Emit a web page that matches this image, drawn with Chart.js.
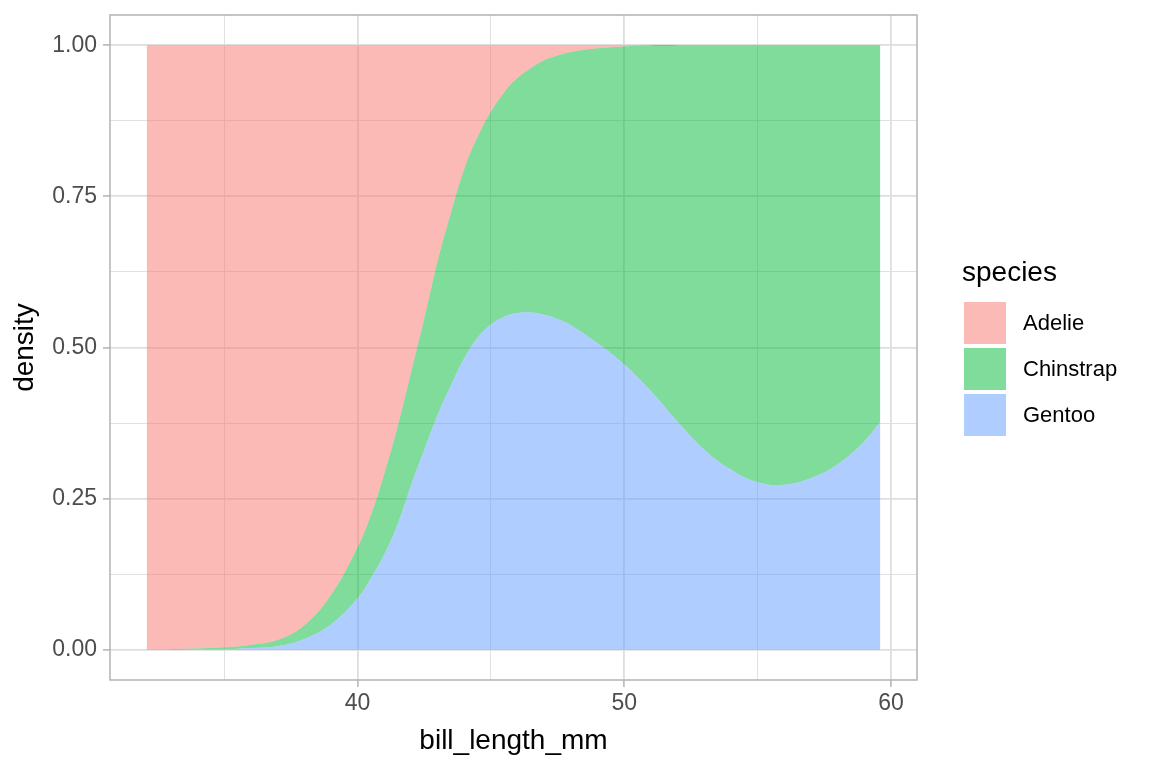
<!DOCTYPE html>
<html>
<head>
<meta charset="utf-8">
<script src="https://cdn.jsdelivr.net/npm/chart.js@4.4.1/dist/chart.umd.min.js"></script>
<style>
  body { margin: 0; background: #fff; }
  #wrap { position: relative; width: 1152px; height: 768px; }
  #chart { position: absolute; left: 0; top: 0; }
  #legend { position: absolute; left: 962px; top: 256px; font-family: "Liberation Sans", Arial, sans-serif; color: #000; }
  #legend .title { font-size: 28px; line-height: 32px; height: 46px; }
  #legend .row { position: relative; height: 46px; }
  #legend .key { position: absolute; left: 2px; top: 0; width: 42px; height: 42px; }
  #legend .lab { position: absolute; left: 61px; top: 0; line-height: 42px; font-size: 22px; }
</style>
</head>
<body>
<div id="wrap">
  <canvas id="chart" width="1152" height="768"></canvas>
  <div id="legend"></div>
</div>
<script>
// bill length grid (mm)
const billLength = [32.1, 33, 34, 35, 36, 37, 38, 39, 40, 40.5, 41, 41.5, 42, 42.5, 43, 43.5, 44, 44.5, 45, 45.5,
                    46, 46.5, 47, 47.5, 48, 49, 50, 51, 52, 53, 54, 55, 56, 57, 58, 59, 59.6];

// conditional density share of each species
const gentoo = [0, 0, 0.001, 0.001, 0.003, 0.006, 0.018, 0.042, 0.085, 0.118, 0.157, 0.207, 0.271, 0.33, 0.388, 0.437,
                0.482, 0.516, 0.538, 0.551, 0.557, 0.558, 0.554, 0.547, 0.537, 0.507, 0.472, 0.428, 0.377, 0.331,
                0.298, 0.277, 0.273, 0.284, 0.307, 0.345, 0.377];
const chinstrap = [0, 0.001, 0.001, 0.003, 0.005, 0.01, 0.022, 0.048, 0.084, 0.104, 0.133, 0.161, 0.186, 0.217, 0.254,
                   0.285, 0.313, 0.332, 0.352, 0.371, 0.389, 0.404, 0.421, 0.436, 0.452, 0.488, 0.526, 0.572, 0.623,
                   0.669, 0.702, 0.723, 0.727, 0.716, 0.693, 0.655, 0.623];
const adelie = [1, 0.999, 0.998, 0.996, 0.992, 0.984, 0.96, 0.91, 0.831, 0.778, 0.71, 0.632, 0.543, 0.453, 0.358,
                0.278, 0.205, 0.152, 0.11, 0.078, 0.054, 0.038, 0.025, 0.017, 0.011, 0.005, 0.002, 0, 0, 0, 0, 0, 0,
                0, 0, 0, 0];

const species = ['Adelie', 'Chinstrap', 'Gentoo'];
const speciesColors = ['rgba(248,118,109,0.5)', 'rgba(0,186,56,0.5)', 'rgba(97,156,255,0.5)'];

const xTicks = [35, 40, 45, 50, 55, 60];
const xLabelled = [40, 50, 60];
const yTicks = [0, 0.125, 0.25, 0.375, 0.5, 0.625, 0.75, 0.875, 1];
const yLabelled = [0, 0.25, 0.5, 0.75, 1];

const pts = arr => arr.map((v, i) => ({ x: billLength[i], y: v }));

function band(label, values, color, fill) {
    return {
        label: label,
        data: pts(values),
        backgroundColor: color,
        borderWidth: 0,
        pointRadius: 0,
        fill: fill,
        tension: 0.4
    };
}

const isMajor = (list, v) => list.some(m => Math.abs(m - v) < 1e-9);

// panel border on all four sides
const panelBorder = {
    id: 'panelBorder',
    afterDatasetsDraw(chart) {
        const a = chart.chartArea;
        const c = chart.ctx;
        c.save();
        c.strokeStyle = '#B3B3B3';
        c.lineWidth = 1.5;
        c.strokeRect(a.left, a.top, a.right - a.left, a.bottom - a.top);
        c.restore();
    }
};

const tickFont = { family: '"Liberation Sans", Arial, sans-serif', size: 23 };
const titleFont = { family: '"Liberation Sans", Arial, sans-serif', size: 28 };

new Chart(document.getElementById('chart'), {
    type: 'line',
    data: {
        datasets: [
            band('Gentoo', gentoo, speciesColors[2], 'origin'),
            band('Chinstrap', chinstrap, speciesColors[1], '-1'),
            band('Adelie', adelie, speciesColors[0], '-1')
        ]
    },
    options: {
        responsive: false,
        animation: false,
        devicePixelRatio: 1,
        layout: { padding: { top: 15, right: 235, left: 0, bottom: 0 } },
        plugins: { legend: { display: false }, tooltip: { enabled: false } },
        scales: {
            x: {
                type: 'linear',
                min: 30.725,
                max: 60.975,
                afterBuildTicks: s => { s.ticks = xTicks.map(v => ({ value: v })); },
                afterFit: s => { s.height = 88; s.paddingLeft = 0; s.paddingRight = 0; },
                ticks: {
                    font: tickFont,
                    color: '#4D4D4D',
                    padding: 3,
                    maxRotation: 0,
                    autoSkip: false,
                    callback: v => isMajor(xLabelled, v) ? String(v) : ''
                },
                grid: {
                    color: '#DEDEDE',
                    lineWidth: c => isMajor(xLabelled, c.tick.value) ? 1.8 : 0.9,
                    tickLength: 7,
                    tickColor: c => isMajor(xLabelled, c.tick.value) ? '#B3B3B3' : 'rgba(0,0,0,0)',
                    tickWidth: 1.5
                },
                border: { display: false },
                title: { display: true, text: 'bill_length_mm', color: '#000', font: titleFont, padding: { top: 0, bottom: 10 } }
            },
            y: {
                stacked: true,
                min: -0.05,
                max: 1.05,
                afterBuildTicks: s => { s.ticks = yTicks.map(v => ({ value: v })); },
                afterFit: s => { s.width = 110; s.paddingTop = 0; s.paddingBottom = 0; },
                ticks: {
                    font: tickFont,
                    color: '#4D4D4D',
                    padding: 6,
                    autoSkip: false,
                    callback: v => isMajor(yLabelled, v) ? v.toFixed(2) : ''
                },
                grid: {
                    color: '#DEDEDE',
                    lineWidth: c => isMajor(yLabelled, c.tick.value) ? 1.8 : 0.9,
                    tickLength: 7,
                    tickColor: c => isMajor(yLabelled, c.tick.value) ? '#B3B3B3' : 'rgba(0,0,0,0)',
                    tickWidth: 1.5
                },
                border: { display: false },
                title: { display: true, text: 'density', color: '#000', font: titleFont, padding: { top: 8, bottom: 0 } }
            }
        }
    },
    plugins: [panelBorder]
});

// legend, same order as ggplot
const legend = document.getElementById('legend');
let html = '<div class="title">species</div>';
species.forEach((name, i) => {
    html += '<div class="row"><div class="key" style="background:' + speciesColors[i] + '"></div>' +
            '<div class="lab">' + name + '</div></div>';
});
legend.innerHTML = html;
</script>
</body>
</html>
